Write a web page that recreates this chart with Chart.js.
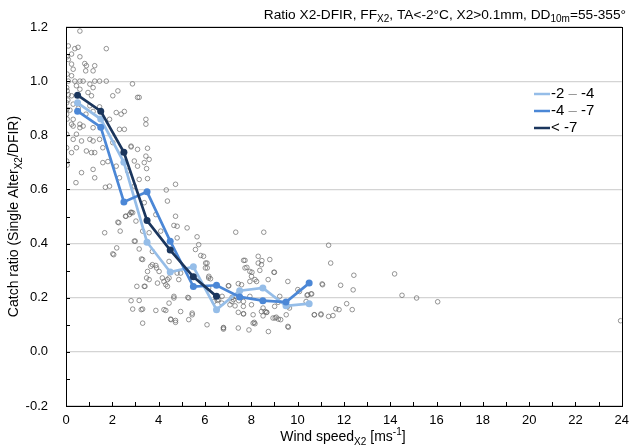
<!DOCTYPE html>
<html lang="en">
<head>
  <meta charset="UTF-8">
  <title>Catch ratio vs wind speed</title>
  <script src="https://cdn.jsdelivr.net/npm/chart.js"></script>
  <style>
    body {
      margin: 0;
      background: #fff;
    }
    .wrap {
      width: 636px;
      height: 445px;
    }
  </style>
</head>
<body>

  <div class="wrap">
    <canvas id="graficoRatio"></canvas>
  </div>

  <script>
    // bin centres of the wind speed classes
    const binCenters = [0.5, 1.5, 2.5, 3.5, 4.5, 5.5, 6.5, 7.5, 8.5, 9.5, 10.5];

    // mean catch ratio per temperature class
    const ratioWarm = [0.92, 0.86, 0.70, 0.405, 0.295, 0.314, 0.156, 0.226, 0.236, 0.170, 0.178];   // -2 .. -4
    const ratioMid  = [0.889, 0.83, 0.554, 0.591, 0.409, 0.241, 0.246, 0.203, 0.189, 0.184, 0.254]; // -4 .. -7
    const ratioCold = [0.948, 0.889, 0.737, 0.485, 0.376, 0.277, 0.205];                            // < -7

    const legendLabels = ['-2 \u2013 -4', '-4 \u2013 -7', '< -7'];

    // single events [wind speed, catch ratio]
    const scatterPoints = [
      [0.60,1.185],[0.10,1.13],[0.38,1.12],[0.52,1.125],[1.74,1.12],[0.05,1.09],[0.24,1.10],[0.60,1.09],
      [0.10,1.08],[0.24,1.063],[0.81,1.065],[0.88,1.057],[1.24,1.057],[0.31,1.044],[0.85,1.038],[1.17,1.038],
      [0.05,1.026],[0.24,1.02],[0.38,1.0],[0.60,1.0],[0.74,1.0],[1.24,1.0],[1.45,1.0],[1.74,1.0],
      [0.10,1.0],[2.87,0.99],[0.45,0.983],[1.03,0.989],[0.03,0.976],[0.05,0.964],[0.60,0.97],[1.17,0.976],
      [2.24,0.964],[0.95,0.958],[2.02,0.946],[0.10,0.95],[0.24,0.946],[1.10,0.946],[3.09,0.94],[0.03,0.92],
      [0.31,0.915],[1.03,0.909],[0.03,0.896],[2.52,0.888],[0.03,0.878],[2.38,0.878],[0.31,0.859],[1.88,0.859],
      [0.24,0.841],[0.60,0.841],[0.53,0.90],[0.17,0.893],[0.86,0.878],[1.17,0.888],[1.45,0.905],[2.17,0.884],
      [0.31,0.834],[0.60,0.828],[0.74,0.834],[1.17,0.828],[2.31,0.822],[2.52,0.822],[0.03,0.804],[0.45,0.804],
      [0.31,0.785],[0.67,0.779],[1.03,0.785],[1.17,0.779],[1.45,0.785],[2.02,0.773],[0.45,0.754],[1.59,0.754],
      [3.09,0.748],[2.81,0.757],[0.24,0.736],[0.88,0.742],[1.10,0.736],[1.24,0.736],[0.03,0.705],[1.59,0.699],
      [1.81,0.703],[2.17,0.686],[2.95,0.705],[1.17,0.674],[0.67,0.662],[2.66,0.668],[2.31,0.643],[1.24,0.643],
      [0.43,0.625],[1.88,0.612],[2.95,0.612],[2.81,0.514],[2.59,0.501],[2.28,0.477],[3.02,0.483],
      [0.03,0.754],[0.05,0.69],[0.08,0.93],[0.05,0.86],
      [3.16,0.94],[3.45,0.859],[3.45,0.841],[2.81,0.76],[3.52,0.752],[3.45,0.723],[3.38,0.699],[3.59,0.711],
      [3.09,0.686],[3.48,0.677],[3.16,0.637],[3.52,0.64],[4.73,0.619],[4.33,0.598],[4.38,0.557],[3.38,0.551],
      [2.88,0.514],[4.73,0.501],[3.88,0.507],
      [2.74,0.507],[4.66,0.467],[4.80,0.464],[5.23,0.458],[3.31,0.446],[3.59,0.44],[4.09,0.446],[5.66,0.425],
      [2.95,0.409],[4.80,0.421],[5.73,0.396],[3.16,0.38],[3.73,0.371],[5.59,0.378],[5.94,0.353],[3.31,0.341],
      [4.45,0.334],[6.09,0.328],[3.73,0.322],[3.66,0.316],[3.88,0.319],[3.52,0.297],[4.02,0.297],[4.80,0.291],
      [4.95,0.291],[6.02,0.31],[3.48,0.273],[3.59,0.267],[4.16,0.273],[4.45,0.273],[4.23,0.26],[4.38,0.267],
      [3.38,0.242],[3.95,0.254],[4.31,0.248],[4.38,0.242],[4.87,0.267],[6.16,0.273],[6.16,0.236],[4.66,0.199],
      [5.30,0.199],[3.16,0.19],[2.88,0.158],[3.31,0.158],[3.88,0.153],[4.23,0.156],[4.31,0.153],[4.45,0.18],
      [4.95,0.149],[4.52,0.121],[4.73,0.116],[5.30,0.119],[3.31,0.106],[6.09,0.10],[6.80,0.088],
      [7.33,0.442],[8.54,0.442],[8.30,0.353],[8.80,0.341],[7.73,0.338],[8.30,0.328],[8.44,0.322],[7.73,0.31],
      [8.37,0.301],[7.94,0.297],[8.01,0.279],[8.98,0.294],[8.73,0.267],[8.16,0.267],[8.23,0.26],[9.58,0.26],
      [7.94,0.26],[7.44,0.252],[7.58,0.248],[7.01,0.244],[10.01,0.23],[10.08,0.223],[11.08,0.248],[10.44,0.211],
      [10.58,0.214],[7.30,0.205],[7.23,0.193],[7.94,0.205],[9.23,0.205],[6.59,0.193],[7.66,0.186],[6.73,0.18],
      [7.08,0.174],[7.30,0.17],[7.66,0.168],[8.01,0.174],[9.01,0.168],[9.16,0.183],[10.37,0.186],[8.51,0.162],
      [8.44,0.149],[7.44,0.146],[7.66,0.141],[9.58,0.168],[9.65,0.162],[8.08,0.137],[8.66,0.146],[9.51,0.137],
      [10.73,0.137],[11.01,0.137],[8.94,0.125],[9.08,0.128],[9.27,0.119],[8.51,0.133],[8.08,0.106],[8.16,0.104],
      [9.58,0.094],[6.80,0.09],[7.44,0.088],[8.74,0.075],
      [11.34,0.394],[11.43,0.328],[12.43,0.283],[14.19,0.288],[11.06,0.251],[11.86,0.246],[12.40,0.229],[10.61,0.214],
      [10.41,0.209],[14.51,0.209],[15.14,0.199],[16.05,0.185],[12.12,0.178],[11.65,0.159],[11.79,0.156],[12.36,0.156],
      [10.72,0.137],[11.01,0.14],[11.34,0.131],[11.53,0.134],[23.95,0.115],
      [1.70,0.608],[1.67,0.44],[2.02,0.362],[2.19,0.384],[2.34,0.446],[2.57,0.501],[2.81,0.516],[2.99,0.409],
      [3.26,0.343],[3.41,0.242],[3.25,0.156],[3.91,0.31],[4.53,0.119],[4.73,0.109],[4.66,0.205],[5.26,0.201],
      [5.45,0.143],[5.45,0.137],[6.80,0.084],[7.90,0.081],[8.13,0.109],[2.06,0.359],[2.81,0.189],[3.06,0.242],
      [2.24,0.479],[5.82,0.356],[6.03,0.328],[6.10,0.31],[6.17,0.279],[6.24,0.27],[7.03,0.244],[6.74,0.205],
      [7.17,0.201],[6.39,0.186],[6.53,0.19],[7.17,0.186],[7.46,0.189],[7.67,0.14],[8.67,0.146],[8.60,0.149],
      [7.67,0.338],[7.81,0.312],[8.46,0.337],[8.03,0.294],[9.00,0.294],[9.03,0.125],[9.17,0.121],[9.60,0.091]
    ];

    const colorWarm = '#95bde8';
    const colorMid = '#4b87d6';
    const colorCold = '#1b365d';
    const fontFam = '"Liberation Sans", Arial, sans-serif';

    function toXY(xs, ys) {
      return ys.map((y, i) => ({ x: xs[i], y: y }));
    }

    // draw text made of runs: [text, 'n'|'sub'|'sup']
    function drawRuns(ctx, runs, x, y, align, size) {
      const small = Math.round(size * 0.7);
      let total = 0;
      runs.forEach(r => {
        ctx.font = (r[1] === 'n' ? size : small) + 'px ' + fontFam;
        total += ctx.measureText(r[0]).width;
      });
      let cx = align === 'right' ? x - total : align === 'center' ? x - total / 2 : x;
      ctx.textBaseline = 'alphabetic';
      ctx.textAlign = 'left';
      runs.forEach(r => {
        ctx.font = (r[1] === 'n' ? size : small) + 'px ' + fontFam;
        const dy = r[1] === 'sub' ? size * 0.25 : r[1] === 'sup' ? -size * 0.4 : 0;
        ctx.fillText(r[0], cx, y + dy);
        cx += ctx.measureText(r[0]).width;
      });
    }

    const decorPlugin = {
      id: 'decor',
      beforeDraw(chart) {
        const ctx = chart.ctx;
        ctx.save();
        ctx.fillStyle = '#fff';
        ctx.fillRect(0, 0, chart.width, chart.height);
        ctx.restore();
      },
      afterDraw(chart) {
        const ctx = chart.ctx;
        const a = chart.chartArea;
        const xs = chart.scales.x;
        const ys = chart.scales.y;
        ctx.save();

        // frame
        ctx.strokeStyle = '#000';
        ctx.lineWidth = 1;
        ctx.strokeRect(Math.round(a.left) + 0.5, Math.round(a.top) + 0.5,
          Math.round(a.right - a.left), Math.round(a.bottom - a.top));

        // inner tick marks
        ctx.beginPath();
        for (let v = -2; v <= 12; v++) {
          const py = Math.round(ys.getPixelForValue(v / 10)) + 0.5;
          ctx.moveTo(a.left, py);
          ctx.lineTo(a.left + 4, py);
        }
        for (let v = 0; v <= 24; v++) {
          const px = Math.round(xs.getPixelForValue(v)) + 0.5;
          ctx.moveTo(px, a.bottom);
          ctx.lineTo(px, a.bottom - 4);
        }
        ctx.stroke();

        ctx.fillStyle = '#000';
        // title
        drawRuns(ctx, [['Ratio X2-DFIR, FF', 'n'], ['X2', 'sub'], [', TA<-2\u00B0C, X2>0.1mm, DD', 'n'],
          ['10m', 'sub'], ['=55-355\u00B0', 'n']], 626, 19, 'right', 13.7);

        // axis titles
        drawRuns(ctx, [['Wind speed', 'n'], ['X2', 'sub'], [' [ms', 'n'], ['-1', 'sup'], [']', 'n']],
          (a.left + a.right) / 2 - 1, 441, 'center', 14);
        ctx.save();
        ctx.translate(18, (a.top + a.bottom) / 2);
        ctx.rotate(-Math.PI / 2);
        drawRuns(ctx, [['Catch ratio (Single Alter', 'n'], ['X2', 'sub'], ['/DFIR)', 'n']], 0, 0, 'center', 14);
        ctx.restore();

        // legend
        const cols = [colorWarm, colorMid, colorCold];
        legendLabels.forEach((lab, i) => {
          const ly = 94 + i * 17;
          ctx.strokeStyle = cols[i];
          ctx.lineWidth = 2.5;
          ctx.beginPath();
          ctx.moveTo(534, ly);
          ctx.lineTo(550, ly);
          ctx.stroke();
          ctx.font = '15px ' + fontFam;
          ctx.textBaseline = 'middle';
          ctx.textAlign = 'left';
          const parts = lab.split('\u2013');
          let tx = 551;
          if (parts.length === 2) {
            ctx.fillStyle = '#000';
            ctx.fillText(parts[0], tx, ly);
            tx += ctx.measureText(parts[0]).width;
            ctx.fillStyle = '#999';
            ctx.fillText('\u2013', tx, ly);
            tx += ctx.measureText('\u2013').width;
            ctx.fillStyle = '#000';
            ctx.fillText(parts[1], tx, ly);
          } else {
            ctx.fillStyle = '#000';
            ctx.fillText(lab, tx, ly);
          }
        });
        ctx.restore();
      }
    };

    function lineSet(label, values, color, order) {
      return {
        type: 'line',
        label: label,
        data: toXY(binCenters, values),
        borderColor: color,
        backgroundColor: color,
        borderWidth: 2.7,
        pointRadius: 3.5,
        pointBorderWidth: 0,
        showLine: true,
        tension: 0,
        order: order
      };
    }

    new Chart(document.getElementById('graficoRatio'), {
      type: 'scatter',
      data: {
        datasets: [
          lineSet(legendLabels[2], ratioCold, colorCold, 1),
          lineSet(legendLabels[1], ratioMid, colorMid, 2),
          lineSet(legendLabels[0], ratioWarm, colorWarm, 3),
          {
            label: 'events',
            data: scatterPoints.map(p => ({ x: p[0], y: p[1] })),
            pointRadius: 2.3,
            borderWidth: 0.8,
            borderColor: 'rgba(100,100,100,0.85)',
            backgroundColor: 'rgba(0,0,0,0)',
            order: 4
          }
        ]
      },
      options: {
        responsive: true,
        maintainAspectRatio: false,
        animation: false,
        layout: { padding: { top: 27, right: 10, left: 0, bottom: 0 } },
        plugins: {
          legend: { display: false },
          tooltip: { enabled: false }
        },
        scales: {
          x: {
            type: 'linear',
            min: 0,
            max: 24,
            ticks: { stepSize: 2, color: '#000', padding: 7, font: { size: 13, family: fontFam } },
            grid: { display: false, drawTicks: false },
            border: { display: false },
            afterFit: s => { s.height = 39; }
          },
          y: {
            min: -0.2,
            max: 1.2,
            ticks: {
              stepSize: 0.2,
              color: '#000',
              padding: 18,
              font: { size: 13, family: fontFam },
              callback: v => (Math.abs(v) < 1e-9 ? 0 : v).toFixed(1)
            },
            grid: { color: '#d4d4d4', lineWidth: 1.2, drawTicks: false },
            border: { display: false },
            afterFit: s => { s.width = 66; }
          }
        }
      },
      plugins: [decorPlugin]
    });
  </script>

</body>
</html>
